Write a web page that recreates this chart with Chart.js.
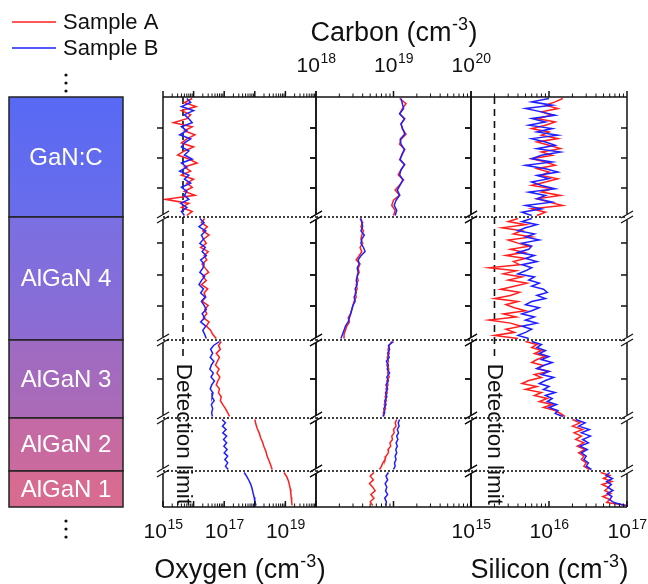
<!DOCTYPE html>
<html>
<head>
<meta charset="utf-8">
<script src="https://cdn.jsdelivr.net/npm/chart.js@4.4.1/dist/chart.umd.min.js"></script>
<style>
  html, body { margin: 0; padding: 0; background: #fff; }
  #wrap { position: relative; width: 648px; height: 584px; }
  #wrap canvas { position: absolute; left: 0; top: 0; }
</style>
</head>
<body>
<div id="wrap">
  <canvas id="oxygenChart" width="648" height="584"></canvas>
  <canvas id="carbonChart" width="648" height="584"></canvas>
  <canvas id="siliconChart" width="648" height="584"></canvas>
</div>
<script>
var FONT = "'Liberation Sans', Arial, Helvetica, sans-serif";

// layer stack, top to bottom
var layers = ["GaN:C", "AlGaN 4", "AlGaN 3", "AlGaN 2", "AlGaN 1"];
// depth of the layer boundaries on the broken depth axis (arbitrary units)
var layerEdges = [0, 120, 243, 321, 374, 410];
var depthTicks = [31, 61, 91, 146, 178, 209, 282];
var layerColors = [
  ["#5869f4", "#6a6deb"],
  ["#7a6fe2", "#8d6cd2"],
  ["#9d6bc4", "#ac6ab6"],
  ["#c36aa6", "#cb6a9d"],
  ["#d56b94", "#d96b8e"]
];

var samples = ["Sample A", "Sample B"];
var sampleColors = ["#ff1f1f", "#1f1fff"];

// Oxygen (cm-3), one array per layer
var oxygenA = [
  [9e15, 5e15, 1.2e16, 4e15, 8e15, 6e15, 2.2e15, 9e15, 5e15, 1.1e16, 6e15, 4e15, 1e16, 5e15, 3e15, 7e15, 1.3e16, 5e15, 8e15, 4e15, 1e16, 6e15, 9e15, 5e15, 1.1e16, 1.2e15, 7e15, 4e15, 9e15, 6e15],
  [2.3e16, 1.8e16, 2.8e16, 2e16, 3.2e16, 2.1e16, 2.6e16, 1.7e16, 3e16, 2.2e16, 2.7e16, 1.9e16, 2.4e16, 3.1e16, 2e16, 2.6e16, 1.8e16, 2.9e16, 2.2e16, 2.5e16, 1.9e16, 3e16, 2.3e16, 2.7e16, 2.1e16, 3.2e16, 2.6e16, 3.6e16, 4.2e16, 5.5e16],
  [8e16, 6.5e16, 7.5e16, 5.5e16, 7e16, 6e16, 5.2e16, 6.8e16, 5.8e16, 7.2e16, 6.2e16, 5.5e16, 7e16, 6.5e16, 8e16, 7.5e16, 9e16, 1.1e17, 1.3e17, 1.5e17],
  [1e18, 1.08e18, 1.2e18, 1.4e18, 1.55e18, 1.8e18, 2e18, 2.3e18, 2.5e18, 2.9e18, 3.3e18, 3.7e18],
  [9e18, 1.1e19, 1.25e19, 1.35e19, 1.45e19, 1.5e19, 1.55e19, 1.6e19, 1.65e19]
];
var oxygenB = [
  [6e15, 8e15, 4e15, 1e16, 5e15, 7e15, 9e15, 4e15, 6e15, 3.5e15, 8e15, 5e15, 4e15, 7e15, 5e15, 9e15, 4e15, 6e15, 3.5e15, 7e15, 5e15, 8e15, 4e15, 6e15, 5e15, 7e15, 3.8e15, 6e15, 4e15, 5e15],
  [1.6e16, 2.2e16, 1.5e16, 2.5e16, 1.8e16, 2.1e16, 1.6e16, 2.4e16, 1.9e16, 2.6e16, 1.7e16, 2.2e16, 2e16, 1.6e16, 2.3e16, 1.8e16, 1.5e16, 2.1e16, 1.7e16, 2.4e16, 1.8e16, 2.2e16, 2.6e16, 1.9e16, 2.3e16, 1.7e16, 2.5e16, 2e16, 2.3e16, 2.6e16],
  [7e16, 4.5e16, 3.6e16, 4.2e16, 3.5e16, 4.6e16, 3.8e16, 3.4e16, 4.4e16, 3.7e16, 4.8e16, 3.9e16, 3.5e16, 4.3e16, 4e16, 4.7e16, 3.8e16, 4.2e16, 3.9e16, 4.1e16],
  [8.5e16, 1.1e17, 8.8e16, 1.15e17, 9e16, 1.2e17, 9.5e16, 1.2e17, 9.8e16, 1.25e17, 1e17, 1.3e17, 1.05e17, 1.3e17, 1.1e17, 1.35e17],
  [4.5e17, 5.5e17, 6.5e17, 7.5e17, 8.2e17, 8.8e17, 9.5e17, 1e18, 1.1e18]
];

// Carbon (cm-3)
var carbonA = [
  [1.2e19, 1.45e19, 1.3e19, 1.2e19, 1.4e19, 1.25e19, 1.3e19, 1.45e19, 1.25e19, 1.2e19, 1.4e19, 1.3e19, 1.2e19, 1.4e19, 1.25e19, 1.15e19, 1.35e19, 1.2e19, 1.05e19, 1.2e19, 1e19, 9.5e18, 1.05e19, 1e19],
  [3.7e18, 4e18, 3.8e18, 4.1e18, 3.9e18, 3.8e18, 4e18, 3.7e18, 3.9e18, 3.6e18, 3.3e18, 3.7e18, 3.5e18, 3.6e18, 3.4e18, 3.5e18, 3.3e18, 3.4e18, 3.2e18, 3.3e18, 3.1e18, 3e18, 2.9e18, 2.8e18, 2.6e18, 2.7e18, 2.5e18, 2.4e18, 2.3e18, 2.3e18],
  [9.5e18, 8.8e18, 8.5e18, 8.8e18, 8.3e18, 8.6e18, 8.2e18, 8.7e18, 8.4e18, 8.8e18, 8.2e18, 8.5e18, 8e18, 8.3e18, 7.8e18, 8.1e18, 7.6e18, 7.9e18, 7.4e18, 7.5e18],
  [1.1e19, 1.05e19, 1.08e19, 1e19, 1.02e19, 9.5e18, 9.7e18, 9e18, 9.2e18, 8.5e18, 8.6e18, 8e18, 7.8e18, 7.3e18, 7e18, 6.6e18],
  [5.6e18, 5e18, 5.5e18, 4.9e18, 5.4e18, 5.8e18, 5.1e18, 5.6e18, 5e18, 5.4e18]
];
var carbonB = [
  [1.25e19, 1.3e19, 1.35e19, 1.2e19, 1.38e19, 1.25e19, 1.32e19, 1.4e19, 1.22e19, 1.25e19, 1.38e19, 1.28e19, 1.22e19, 1.38e19, 1.25e19, 1.2e19, 1.32e19, 1.22e19, 1.12e19, 1.2e19, 1.08e19, 1.02e19, 1.1e19, 1.05e19],
  [3.8e18, 3.9e18, 4e18, 3.8e18, 4.2e18, 3.9e18, 3.8e18, 4.1e18, 4.3e18, 3.8e18, 3.5e18, 3.6e18, 3.4e18, 3.5e18, 3.4e18, 3.3e18, 3.4e18, 3.2e18, 3.3e18, 3.1e18, 3.2e18, 3e18, 2.9e18, 2.8e18, 2.7e18, 2.6e18, 2.4e18, 2.3e18, 2.2e18, 2.1e18],
  [1e19, 8.6e18, 8.9e18, 8.4e18, 8.8e18, 8.1e18, 8.6e18, 8.3e18, 8.9e18, 8.2e18, 8.6e18, 8e18, 8.4e18, 7.9e18, 8.2e18, 7.7e18, 8e18, 7.5e18, 7.7e18, 7.3e18],
  [1.2e19, 1.15e19, 1.18e19, 1.12e19, 1.16e19, 1.1e19, 1.14e19, 1.08e19, 1.12e19, 1.07e19, 1.1e19, 1.05e19, 1.08e19, 1.03e19, 1.05e19, 1e19],
  [8.6e18, 8e18, 8.4e18, 7.8e18, 8.2e18, 7.9e18, 8.4e18, 7.7e18, 8.1e18, 7.9e18]
];

// Silicon (cm-3)
var siliconA = [
  [1.5e16, 1.2e16, 9e15, 1.3e16, 8e15, 1.1e16, 7e15, 1.2e16, 9e15, 6e15, 1e16, 8e15, 1.3e16, 7e15, 1e16, 1.4e16, 8e15, 1.1e16, 6e15, 9e15, 1.2e16, 7e15, 1e16, 8e15, 1.3e16, 9e15, 6e15, 1.1e16, 8e15, 1.4e16, 7e15, 1e16, 1.5e16, 6e15, 9e15, 7e15],
  [4e15, 3e15, 5e15, 2.5e15, 4.5e15, 3.5e15, 6e15, 3e15, 4e15, 5.5e15, 3.2e15, 4.8e15, 2.8e15, 5e15, 3.5e15, 4.2e15, 1.7e15, 3.8e15, 2.6e15, 4.5e15, 3e15, 5.2e15, 3.6e15, 2.4e15, 4.2e15, 3.2e15, 2e15, 4e15, 2.8e15, 3.6e15, 5e15, 2.6e15, 3.8e15, 1.7e15, 3.2e15, 4.4e15, 2.8e15, 3.6e15, 2e15, 4e15],
  [5e15, 7e15, 6e15, 8e15, 6.5e15, 9e15, 7e15, 6e15, 8.5e15, 7e15, 1e16, 6.5e15, 8e15, 5.5e15, 4.5e15, 7e15, 5e15, 8e15, 6.5e15, 9.5e15, 7.5e15, 1.1e16, 8.5e15, 1.2e16, 1.4e16, 1.6e16],
  [2e16, 2.5e16, 2e16, 2.7e16, 2.1e16, 2.6e16, 2.2e16, 2.8e16, 2.3e16, 2.9e16, 2.4e16, 2.8e16, 2.6e16, 3e16, 2.8e16, 3.3e16],
  [4.6e16, 6e16, 5e16, 6.4e16, 4.8e16, 5.8e16, 5.2e16, 6.2e16, 4.9e16, 6e16, 5.5e16, 1e17]
];
var siliconB = [
  [1e16, 6e15, 1.1e16, 5e15, 8e15, 1.2e16, 6e15, 9e15, 5.5e15, 1.1e16, 7e15, 1.3e16, 6e15, 9e15, 1.2e16, 7e15, 1.4e16, 8e15, 6e15, 1.1e16, 5e15, 9e15, 1.3e16, 7e15, 1e16, 6e15, 8e15, 1.2e16, 5.5e15, 9e15, 7e15, 1.1e16, 5e15, 8e15, 4.5e15, 6e15],
  [6e15, 4.5e15, 7e15, 5e15, 4e15, 6.5e15, 5e15, 7.5e15, 4.5e15, 6e15, 5.5e15, 4e15, 6.5e15, 5e15, 7e15, 4.5e15, 6e15, 5e15, 4e15, 6.5e15, 5.5e15, 7.5e15, 6e15, 8.5e15, 9.5e15, 7e15, 9e15, 6e15, 5e15, 7.5e15, 6e15, 4.5e15, 6.5e15, 5e15, 7e15, 4.5e15, 6e15, 5e15, 4e15, 5.5e15],
  [6e15, 8e15, 7e15, 9e15, 7.5e15, 1e16, 8e15, 1.1e16, 8.5e15, 7e15, 1e16, 8e15, 1.15e16, 9e15, 7.5e15, 1e16, 8.5e15, 1.2e16, 9e15, 1.1e16, 9.5e15, 1.25e16, 1e16, 1.3e16, 1.2e16, 1.5e16],
  [2.2e16, 2.9e16, 2.4e16, 3.3e16, 2.6e16, 3.4e16, 2.7e16, 3.2e16, 2.5e16, 3.1e16, 2.6e16, 3e16, 2.8e16, 3.2e16, 3e16, 3.5e16],
  [6e16, 5.4e16, 6.5e16, 5.5e16, 6.3e16, 5.7e16, 6.6e16, 5.6e16, 6.4e16, 6e16, 6.8e16, 9.5e16]
];

// axis ranges and labelled decades
var oxygenRange = [1e15, 1e20], oxygenTicks = [15, 17, 19];
var carbonRange = [1e18, 1e20], carbonTicks = [18, 19, 20];
var siliconRange = [1e15, 1e17], siliconTicks = [15, 16, 17];
var oxygenLimit = 4.5e15, siliconLimit = 2e15;

function layerPoints(values, k) {
  var top = layerEdges[k] + 1.5, bottom = layerEdges[k + 1] - 1.5;
  var step = (bottom - top) / (values.length - 1);
  return values.map(function (v, i) { return { x: v, y: top + i * step }; });
}

function buildDatasets(seriesA, seriesB) {
  var sets = [];
  // Sample B first so it is drawn on top
  [[seriesB, 1], [seriesA, 0]].forEach(function (pair) {
    pair[0].forEach(function (vals, k) {
      sets.push({
        label: samples[pair[1]],
        data: layerPoints(vals, k),
        showLine: true,
        borderColor: sampleColors[pair[1]],
        backgroundColor: sampleColors[pair[1]],
        borderWidth: 1.5,
        pointRadius: 0,
        tension: 0
      });
    });
  });
  return sets;
}

function line(ctx, x1, y1, x2, y2) {
  ctx.beginPath(); ctx.moveTo(x1, y1); ctx.lineTo(x2, y2); ctx.stroke();
}

// text with a superscript part: base + sup + tail
function supText(ctx, base, sup, tail, cx, y, size) {
  var supSize = Math.round(size * 0.65);
  ctx.font = size + "px " + FONT;
  var w1 = ctx.measureText(base).width;
  var w3 = tail ? ctx.measureText(tail).width : 0;
  ctx.font = supSize + "px " + FONT;
  var w2 = ctx.measureText(sup).width;
  var left = cx - (w1 + w2 + w3) / 2;
  ctx.textAlign = "left";
  ctx.textBaseline = "alphabetic";
  ctx.fillStyle = "#111";
  ctx.font = size + "px " + FONT;
  ctx.fillText(base, left, y);
  if (tail) ctx.fillText(tail, left + w1 + w2 + 1, y);
  ctx.font = supSize + "px " + FONT;
  ctx.fillText(sup, left + w1 + 0.5, y - size * 0.42);
}

var panelPlugin = {
  id: "panel",
  beforeDatasetsDraw: function (chart, args, opts) {
    var ctx = chart.ctx, xs = chart.scales.x, ys = chart.scales.y, a = chart.chartArea;
    ctx.save();
    ctx.strokeStyle = "#111";
    ctx.lineWidth = 1.6;
    ctx.setLineDash([2, 2]);
    for (var k = 1; k < layerEdges.length - 1; k++) {
      var py = ys.getPixelForValue(layerEdges[k]);
      line(ctx, a.left, py, a.right, py);
    }
    if (opts.limit) {
      var px = xs.getPixelForValue(opts.limit);
      ctx.font = "22.5px " + FONT;
      var tw = ctx.measureText("Detection limit").width;
      var end = a.bottom - 2;
      ctx.setLineDash([7, 5]);
      line(ctx, px, a.top, px, end - tw - 3);
      ctx.setLineDash([]);
      ctx.translate(px, end);
      ctx.rotate(Math.PI / 2);
      ctx.fillStyle = "#111";
      ctx.textAlign = "right";
      ctx.textBaseline = "middle";
      ctx.fillText("Detection limit", 0, 0);
    }
    ctx.restore();
  },
  afterDraw: function (chart, args, opts) {
    var ctx = chart.ctx, xs = chart.scales.x, ys = chart.scales.y, a = chart.chartArea;
    var k, py;
    ctx.save();
    ctx.strokeStyle = "#111";
    ctx.lineWidth = 1.5;
    ctx.setLineDash([]);
    // frame: full top and bottom, broken sides
    line(ctx, a.left, a.top, a.right, a.top);
    line(ctx, a.left, a.bottom, a.right, a.bottom);
    for (k = 0; k < layerEdges.length - 1; k++) {
      var t = ys.getPixelForValue(layerEdges[k]) + (k > 0 ? 3 : 0);
      var b = ys.getPixelForValue(layerEdges[k + 1]) - (k < layerEdges.length - 2 ? 3 : 0);
      line(ctx, a.left, t, a.left, b);
      line(ctx, a.right, t, a.right, b);
    }
    ctx.lineWidth = 1.2;
    for (k = 1; k < layerEdges.length - 1; k++) {
      py = ys.getPixelForValue(layerEdges[k]);
      [a.left, a.right].forEach(function (bx) {
        line(ctx, bx - 6, py + 1, bx + 6, py - 6);
        line(ctx, bx - 6, py + 6, bx + 6, py - 1);
      });
    }
    // depth ticks, pointing left on both sides
    ctx.lineWidth = 1.5;
    depthTicks.forEach(function (d) {
      var p = ys.getPixelForValue(d);
      line(ctx, a.left - 6, p, a.left, p);
      line(ctx, a.right - 6, p, a.right, p);
    });
    // log ticks on top and bottom
    var lo = Math.round(Math.log10(xs.min)), hi = Math.round(Math.log10(xs.max));
    for (var e = lo; e <= hi; e++) {
      for (var m = 1; m <= 9; m++) {
        var v = m * Math.pow(10, e);
        if (v > xs.max * 1.0001) break;
        var px = xs.getPixelForValue(v);
        var len = m === 1 ? 6 : 3.5;
        ctx.lineWidth = m === 1 ? 1.5 : 1;
        line(ctx, px, a.top, px, a.top - len);
        line(ctx, px, a.bottom, px, a.bottom - len);
      }
    }
    // labels and title
    opts.ticks.forEach(function (ex) {
      var px = xs.getPixelForValue(Math.pow(10, ex));
      var y = opts.side === "top" ? a.top - 25 : a.bottom + 31;
      supText(ctx, "10", String(ex), "", px, y, 21);
    });
    var cx = (a.left + a.right) / 2;
    var ty = opts.side === "top" ? a.top - 56 : a.bottom + 71;
    supText(ctx, opts.title + " (cm", "-3", ")", cx, ty, 27);

    if (opts.decor) drawDecor(chart);
    ctx.restore();
  }
};

// layer stack boxes, legend and ellipsis dots
function drawDecor(chart) {
  var ctx = chart.ctx, ys = chart.scales.y;
  var bl = 9, br = 123;
  ctx.save();
  layers.forEach(function (name, k) {
    var t = ys.getPixelForValue(layerEdges[k]);
    var b = ys.getPixelForValue(layerEdges[k + 1]);
    var g = ctx.createLinearGradient(0, t, 0, b);
    g.addColorStop(0, layerColors[k][0]);
    g.addColorStop(1, layerColors[k][1]);
    ctx.fillStyle = g;
    ctx.fillRect(bl, t, br - bl, b - t);
    ctx.strokeStyle = "#222";
    ctx.lineWidth = 1.5;
    ctx.strokeRect(bl, t, br - bl, b - t);
    ctx.fillStyle = "#fff";
    ctx.font = "24px " + FONT;
    ctx.textAlign = "center";
    ctx.textBaseline = "middle";
    ctx.fillText(name, (bl + br) / 2, (t + b) / 2 + 1);
  });
  // legend
  samples.forEach(function (s, i) {
    var y = 22 + i * 26;
    ctx.strokeStyle = sampleColors[i];
    ctx.lineWidth = 1.5;
    line(ctx, 12, y, 56, y);
    ctx.fillStyle = "#111";
    ctx.font = "22px " + FONT;
    ctx.textAlign = "left";
    ctx.textBaseline = "middle";
    ctx.fillText(s, 63, y + 1);
  });
  // vertical ellipses
  ctx.fillStyle = "#111";
  [75, 83, 91, 521, 529, 537].forEach(function (y) {
    ctx.beginPath();
    ctx.arc(66, y, 1.6, 0, Math.PI * 2);
    ctx.fill();
  });
  ctx.restore();
}

function panelOptions(left, right, range, plugin) {
  return {
    responsive: false,
    animation: false,
    events: [],
    layout: { padding: { left: left, right: 648 - right, top: 97, bottom: 77 } },
    scales: {
      x: { type: "logarithmic", min: range[0], max: range[1], display: false },
      y: { type: "linear", min: 0, max: layerEdges[layerEdges.length - 1], reverse: true, display: false }
    },
    plugins: { legend: { display: false }, tooltip: { enabled: false }, panel: plugin }
  };
}

var ctx = document.getElementById("oxygenChart").getContext("2d");
var oxygenChart = new Chart(ctx, {
  type: "scatter",
  data: { datasets: buildDatasets(oxygenA, oxygenB) },
  options: panelOptions(163, 316, oxygenRange,
    { title: "Oxygen", ticks: oxygenTicks, side: "bottom", limit: oxygenLimit, decor: true }),
  plugins: [panelPlugin]
});

ctx = document.getElementById("carbonChart").getContext("2d");
var carbonChart = new Chart(ctx, {
  type: "scatter",
  data: { datasets: buildDatasets(carbonA, carbonB) },
  options: panelOptions(316, 471, carbonRange,
    { title: "Carbon", ticks: carbonTicks, side: "top" }),
  plugins: [panelPlugin]
});

ctx = document.getElementById("siliconChart").getContext("2d");
var siliconChart = new Chart(ctx, {
  type: "scatter",
  data: { datasets: buildDatasets(siliconA, siliconB) },
  options: panelOptions(471, 627, siliconRange,
    { title: "Silicon", ticks: siliconTicks, side: "bottom", limit: siliconLimit }),
  plugins: [panelPlugin]
});
</script>
</body>
</html>
